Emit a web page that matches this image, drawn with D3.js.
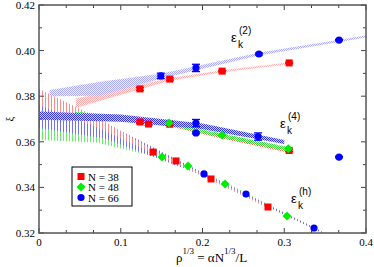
<!DOCTYPE html>
<html><head><meta charset="utf-8">
<script src="https://cdn.jsdelivr.net/npm/d3@7"></script>
<style>body{margin:0;background:#fff}svg{display:block}</style>
</head><body>
<script>
// ---------- data ----------
const xTicks = [0, 0.1, 0.2, 0.3, 0.4];
const yTicks = [0.32, 0.34, 0.36, 0.38, 0.40, 0.42];
const legendLabels = ["N = 38", "N = 48", "N = 66"];

// epsilon_k^(2) points
const e2_N38_x = [0.1235, 0.160, 0.224, 0.306];
const e2_N38_y = [0.3832, 0.3875, 0.3910, 0.3946];
const e2_N38_err = [0.0006, 0.0005, 0.0003, 0.0003];
const e2_N66_x = [0.149, 0.192, 0.269, 0.367];
const e2_N66_y = [0.3889, 0.3924, 0.3985, 0.4046];
const e2_N66_err = [0.0012, 0.0016, 0.0004, 0.0003];
// epsilon_k^(4) points
const e4_N38_x = [0.1235, 0.134, 0.160, 0.306];
const e4_N38_y = [0.3687, 0.3678, 0.3677, 0.3562];
const e4_N38_err = [0.0006, 0.0006, 0.0004, 0.0005];
const e4_N48_x = [0.159, 0.224, 0.305];
const e4_N48_y = [0.3682, 0.3630, 0.3570];
const e4_N66_x = [0.192, 0.192, 0.268, 0.367];
const e4_N66_y = [0.3682, 0.3639, 0.3623, 0.3533];
const e4_N66_err = [0.0016, 0.0004, 0.0016, 0.0003];
// epsilon_k^(h) points
const eh_N38_x = [0.1394, 0.1676, 0.2104, 0.2801];
const eh_N38_y = [0.3555, 0.3516, 0.3437, 0.3314];
const eh_N48_x = [0.1505, 0.1823, 0.2275, 0.3034];
const eh_N48_y = [0.3533, 0.3494, 0.3415, 0.3275];
const eh_N66_x = [0.2018, 0.2532, 0.3364];
const eh_N66_y = [0.3459, 0.3371, 0.3222];

// fit bands (x samples, upper and lower edges)
const bh_N48_x = [0, 0.07, 0.15, 0.23, 0.305];
const bh_N48_up = [0.3688, 0.3658, 0.3540, 0.3419, 0.3280];
const bh_N48_lo = [0.3608, 0.3597, 0.3528, 0.3411, 0.3271];
const bh_N66_x = [0, 0.08, 0.2, 0.25, 0.336, 0.36];
const bh_N66_up = [0.3800, 0.3685, 0.3465, 0.3377, 0.3226, 0.3180];
const bh_N66_lo = [0.3660, 0.3615, 0.3453, 0.3367, 0.3218, 0.3172];
const bh_N38_x = [0, 0.07, 0.14, 0.21, 0.28];
const bh_N38_up = [0.3832, 0.3710, 0.3563, 0.3441, 0.3318];
const bh_N38_lo = [0.3760, 0.3665, 0.3550, 0.3433, 0.3310];

const b2_N38_x = [0.045, 0.1, 0.16, 0.224, 0.31];
const b2_N38_up = [0.3790, 0.3832, 0.3880, 0.3914, 0.3950];
const b2_N38_lo = [0.3748, 0.3806, 0.3868, 0.3905, 0.3942];
const b2_N66_x = [0.013, 0.075, 0.15, 0.27, 0.4];
const b2_N66_up = [0.3827, 0.3863, 0.3900, 0.3992, 0.4066];
const b2_N66_lo = [0.3800, 0.3802, 0.3878, 0.3980, 0.4057];

const b4_N38_x = [0.05, 0.1, 0.16, 0.224, 0.306];
const b4_N38_up = [0.3725, 0.3703, 0.3676, 0.3628, 0.3565];
const b4_N38_lo = [0.3718, 0.3695, 0.3668, 0.3615, 0.3552];
const b4_N48_x = [0.045, 0.1, 0.16, 0.224, 0.305];
const b4_N48_up = [0.3732, 0.3712, 0.3684, 0.3636, 0.3577];
const b4_N48_lo = [0.3722, 0.3700, 0.3672, 0.3618, 0.3558];
const b4_N66_x = [0, 0.1, 0.2, 0.3];
const b4_N66_up = [0.3733, 0.3720, 0.3680, 0.3608];
const b4_N66_lo = [0.3697, 0.3688, 0.3655, 0.3590];

// ---------- drawing ----------
const W = 374, H = 267;
const m = {l: 39, r: 366, t: 5, b: 233};
const x = d3.scaleLinear().domain([0, 0.4]).range([m.l, m.r]);
const y = d3.scaleLinear().domain([0.32, 0.42]).range([m.b, m.t]);
const RED = "#ff0000", GREEN = "#00ee00", BLUE = "#0000ff";

const svg = d3.select("body").append("svg").attr("width", W).attr("height", H);
const defs = svg.append("defs");
defs.append("clipPath").attr("id", "clip").append("rect")
  .attr("x", m.l).attr("y", m.t).attr("width", m.r - m.l).attr("height", m.b - m.t);

function vlinePattern(id, color) {
  const p = defs.append("pattern").attr("id", id).attr("patternUnits", "userSpaceOnUse")
    .attr("width", 3).attr("height", 3);
  p.append("rect").attr("x", 0).attr("y", 0).attr("width", 1).attr("height", 3).attr("fill", color);
}
function checkerPattern(id, color, bg) {
  const p = defs.append("pattern").attr("id", id).attr("patternUnits", "userSpaceOnUse")
    .attr("width", 2).attr("height", 2);
  if (bg) p.append("rect").attr("width", 2).attr("height", 2).attr("fill", bg);
  p.append("rect").attr("x", 0).attr("y", 0).attr("width", 1).attr("height", 1).attr("fill", color);
  p.append("rect").attr("x", 1).attr("y", 1).attr("width", 1).attr("height", 1).attr("fill", color);
}
vlinePattern("vR", "#ff8888");
vlinePattern("vG", "#66ee66");
vlinePattern("vB", "#7070ff");
checkerPattern("c2R", "#ffaaaa", "#fff4f4");
checkerPattern("c2B", "#aaaaff", "#f0f0ff");
checkerPattern("c4R", "#ff5555", null);
checkerPattern("c4G", "#33dd33", null);
checkerPattern("c4B", "#3030ff", "#d8d8ff");

const plot = svg.append("g").attr("clip-path", "url(#clip)");

function band(xs, up, lo, fill) {
  const pts = xs.map((v, i) => [x(v), y(up[i])])
    .concat(xs.map((v, i) => [x(v), y(lo[i])]).reverse());
  plot.append("path").attr("d", d3.line().curve(d3.curveLinear)(pts) + "Z")
    .attr("fill", `url(#${fill})`).attr("stroke", "none");
}
band(bh_N48_x, bh_N48_up, bh_N48_lo, "vG");
band(bh_N66_x, bh_N66_up, bh_N66_lo, "vB");
band(bh_N38_x, bh_N38_up, bh_N38_lo, "vR");
band(b2_N38_x, b2_N38_up, b2_N38_lo, "c2R");
band(b2_N66_x, b2_N66_up, b2_N66_lo, "c2B");
band(b4_N38_x, b4_N38_up, b4_N38_lo, "c4R");
band(b4_N48_x, b4_N48_up, b4_N48_lo, "c4G");
band(b4_N66_x, b4_N66_up, b4_N66_lo, "c4B");

function errbars(xs, ys, es, color) {
  xs.forEach((v, i) => {
    const e = es[i]; if (!e) return;
    const cx = x(v), y1 = y(ys[i] + e), y2 = y(ys[i] - e);
    const g = plot.append("g").attr("stroke", color).attr("stroke-width", 1.3);
    g.append("line").attr("x1", cx).attr("x2", cx).attr("y1", y1).attr("y2", y2);
    g.append("line").attr("x1", cx - 4).attr("x2", cx + 4).attr("y1", y1).attr("y2", y1);
    g.append("line").attr("x1", cx - 4).attr("x2", cx + 4).attr("y1", y2).attr("y2", y2);
  });
}
function markers(xs, ys, kind, color) {
  xs.forEach((v, i) => {
    const cx = x(v), cy = y(ys[i]);
    if (kind === "sq") plot.append("rect").attr("x", cx - 3.5).attr("y", cy - 3.5)
      .attr("width", 7).attr("height", 7).attr("fill", color);
    else if (kind === "dia") plot.append("path")
      .attr("d", `M${cx},${cy - 4.5}L${cx + 4.5},${cy}L${cx},${cy + 4.5}L${cx - 4.5},${cy}Z`).attr("fill", color);
    else plot.append("circle").attr("cx", cx).attr("cy", cy).attr("r", 3.6).attr("fill", color);
  });
}
errbars(e2_N38_x, e2_N38_y, e2_N38_err, RED);
errbars(e4_N38_x, e4_N38_y, e4_N38_err, RED);
markers(e2_N38_x, e2_N38_y, "sq", RED);
markers(e4_N38_x, e4_N38_y, "sq", RED);
markers(eh_N38_x, eh_N38_y, "sq", RED);
markers(e4_N48_x, e4_N48_y, "dia", GREEN);
markers(eh_N48_x, eh_N48_y, "dia", GREEN);
errbars(e2_N66_x, e2_N66_y, e2_N66_err, BLUE);
errbars(e4_N66_x, e4_N66_y, e4_N66_err, BLUE);
markers(e2_N66_x, e2_N66_y, "ci", BLUE);
markers(e4_N66_x, e4_N66_y, "ci", BLUE);
markers(eh_N66_x, eh_N66_y, "ci", BLUE);

// ---------- axes ----------
const serif = "'Liberation Serif','Times New Roman',serif";
const sans = "'Liberation Sans',Arial,sans-serif";
const xMinor = d3.range(0, 0.4001, 0.1 / 3);
const yMinor = d3.range(0.32, 0.4201, 0.01);
const ax = svg.append("g").attr("stroke", "#444").attr("stroke-width", 1);
xMinor.forEach((v, i) => {
  const L = (i % 3 === 0) ? 5 : 3;
  ax.append("line").attr("x1", x(v)).attr("x2", x(v)).attr("y1", m.b).attr("y2", m.b - L);
  ax.append("line").attr("x1", x(v)).attr("x2", x(v)).attr("y1", m.t).attr("y2", m.t + L);
});
yMinor.forEach((v, i) => {
  const L = (i % 2 === 0) ? 5 : 3;
  ax.append("line").attr("x1", m.l).attr("x2", m.l + L).attr("y1", y(v)).attr("y2", y(v));
  ax.append("line").attr("x1", m.r).attr("x2", m.r - L).attr("y1", y(v)).attr("y2", y(v));
});
svg.append("rect").attr("x", m.l).attr("y", m.t).attr("width", m.r - m.l).attr("height", m.b - m.t)
  .attr("fill", "none").attr("stroke", "#555").attr("stroke-width", 1.5);

svg.append("g").selectAll("text").data(xTicks).join("text")
  .attr("x", d => x(d)).attr("y", 246).attr("text-anchor", "middle")
  .attr("font-family", serif).attr("font-size", 11).text(d => d === 0 ? "0" : d3.format(".1f")(d));
svg.append("g").selectAll("text").data(yTicks).join("text")
  .attr("x", 35).attr("y", d => y(d) + 4).attr("text-anchor", "end")
  .attr("font-family", serif).attr("font-size", 11).text(d => d3.format(".2f")(d));

// axis titles
svg.append("text").attr("transform", "translate(13,119) rotate(-90)").attr("text-anchor", "middle")
  .attr("font-family", serif).attr("font-size", 11).text("ξ");
const xl = svg.append("text").attr("x", 176).attr("y", 262).attr("font-family", serif).attr("font-size", 13);
xl.append("tspan").text("ρ");
xl.append("tspan").attr("font-size", 9).attr("dy", -8).text("1/3");
xl.append("tspan").attr("dy", 8).text(" = αN");
xl.append("tspan").attr("font-size", 9).attr("dy", -8).text("1/3");
xl.append("tspan").attr("dy", 8).text("/L");

// series labels
function elabel(x0, yb, sup) {
  svg.append("text").attr("x", x0).attr("y", yb).attr("font-family", sans).attr("font-size", 13).text("ε");
  svg.append("text").attr("x", x0 + 7).attr("y", yb + 6).attr("font-family", sans).attr("font-size", 10).text("k");
  svg.append("text").attr("x", x0 + 8).attr("y", yb - 8).attr("font-family", sans).attr("font-size", 10).text("(" + sup + ")");
}
elabel(231, 42, "2");
elabel(280, 128, "4");
elabel(291, 203, "h");

// legend
const lg = svg.append("g");
lg.append("rect").attr("x", 72).attr("y", 167).attr("width", 60).attr("height", 39)
  .attr("fill", "#fff").attr("stroke", "#000").attr("stroke-width", 1);
const ly = [176.5, 187, 197.5];
lg.append("rect").attr("x", 81 - 3.5).attr("y", ly[0] - 3.5).attr("width", 7).attr("height", 7).attr("fill", RED);
lg.append("path").attr("d", `M81,${ly[1] - 4.5}L85.5,${ly[1]}L81,${ly[1] + 4.5}L76.5,${ly[1]}Z`).attr("fill", GREEN);
lg.append("circle").attr("cx", 81).attr("cy", ly[2]).attr("r", 3.6).attr("fill", BLUE);
legendLabels.forEach((t, i) => lg.append("text").attr("x", 88).attr("y", ly[i] + 4)
  .attr("font-family", serif).attr("font-size", 11).text(t));
</script>
</body></html>
